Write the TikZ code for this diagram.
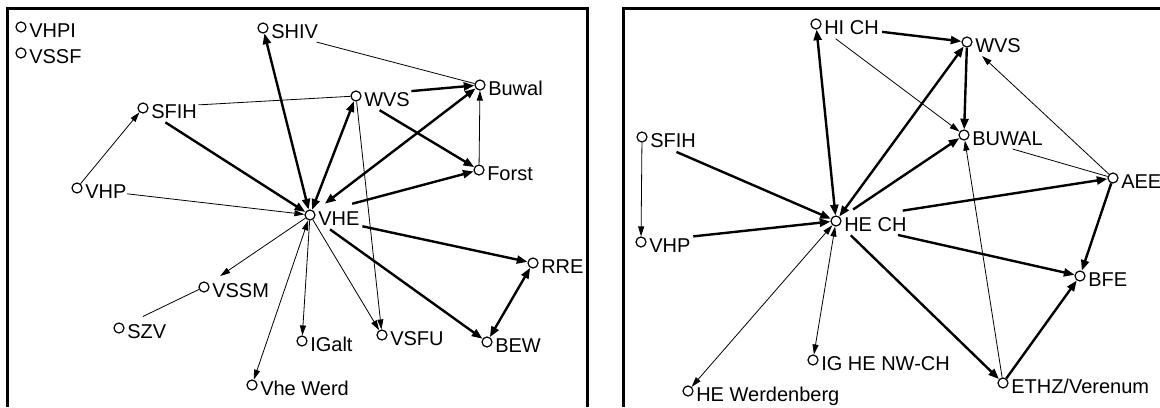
\documentclass[tikz,border=0pt]{standalone}
\usepackage{fontspec}
\setmainfont{Liberation Sans}
\usetikzlibrary{arrows.meta}

\newcommand{\stn}[3]{%
  \node[stop] (#1) at (#2) {};
  \node[stoplabel] (#1-l) at ([xshift=6pt, yshift=-7.9pt]#1.center) {#3};
}

\begin{document}
\begin{tikzpicture}[
    x=0.75pt, y=-0.75pt,
    stop/.style={circle, draw, fill=white, line width=0.9pt, inner sep=0, minimum size=7.5pt},
    stoplabel/.style={anchor=base west, inner sep=0, font=\fontsize{15}{18}\selectfont},
    frame/.style={line width=2.25pt},
    weak/.style={line width=0.6pt, >={Triangle[length=7.5pt, width=4.5pt]}},
    strong/.style={line width=1.8pt, >={Triangle[length=8pt, width=6pt]}},
    cutA/.style={shorten <=#1*0.75pt},
    cutB/.style={shorten >=#1*0.75pt}]
\useasboundingbox (0,0) rectangle (1160,407);

% frames, open at the bottom
\draw[frame] (7,407) -- (7,8) -- (587,8) -- (587,407);
\draw[frame] (623,407) -- (623,8) -- (1160,8);

% left network
\stn{VHPI}{21,27}{VHPI}
\stn{VSSF}{21,53}{VSSF}
\stn{SHIV}{263,28}{SHIV}
\stn{SFIH}{143,108}{SFIH}
\stn{VHP}{77,188}{VHP}
\stn{WVS}{356,96}{WVS}
\stn{Buwal}{480,85}{Buwal}
\stn{Forst}{479,170}{Forst}
\stn{VHE}{310,215}{VHE}
\stn{RRE}{533,263}{RRE}
\stn{BEW}{487,342}{BEW}
\stn{VSFU}{382,335}{VSFU}
\stn{IGalt}{302,341}{IGalt}
\stn{VheWerd}{252,385}{Vhe Werd}
\stn{VSSM}{204,287}{VSSM}
\stn{SZV}{119,328}{SZV}

\draw[weak, cutA=50] (SFIH) -- (WVS);
\draw[weak, ->] (VHP) -- (SFIH);
\draw[strong, ->, cutA=21] (SFIH) -- (VHE);
\draw[weak, ->, cutA=45] (VHP) -- (VHE);
\draw[strong, <->] (VHE) -- (SHIV);
\draw[strong, <->] (VHE) -- (WVS);
\draw[strong, <->, cutA=13] (VHE) -- (Buwal);
\draw[strong, ->, cutA=38] (VHE) -- (Forst);
\draw[strong, ->, cutA=50] (WVS) -- (Buwal);
\draw[strong, ->, cutA=22] (WVS) -- (Forst);
\draw[weak, ->] (Forst) -- (Buwal);
\draw[weak, cutA=50] (SHIV) -- (Buwal);
\draw[weak, ->] (WVS) -- (VSFU);
\draw[weak, ->] (VHE) -- (VSFU);
\draw[weak, ->] (VHE) -- (IGalt);
\draw[weak, <->] (VHE) -- (VheWerd);
\draw[weak, ->, cutB=14] (VHE) -- (VSSM);
\draw[weak, cutB=21] (VSSM) -- (SZV);
\draw[strong, ->, cutA=48] (VHE) -- (RRE);
\draw[strong, ->, cutA=19] (VHE) -- (BEW);
\draw[strong, <->] (RRE) -- (BEW);

% right network
\stn{HICH}{816,24}{HI CH}
\stn{WVSr}{967,42}{WVS}
\stn{BUWALr}{964,135}{BUWAL}
\stn{AEE}{1113,178}{AEE}
\stn{SFIHr}{642,137}{SFIH}
\stn{VHPr}{641,242}{VHP}
\stn{HECH}{836,221}{HE CH}
\stn{BFE}{1080,276}{BFE}
\stn{ETHZ}{1003,383}{ETHZ/Verenum}
\stn{IGHE}{813,360}{IG HE NW-CH}
\stn{HEWerd}{688,391}{HE Werdenberg}

\draw[strong, <->] (HECH) -- (HICH);
\draw[strong, ->, cutA=61] (HICH) -- (WVSr);
\draw[weak, ->, cutA=19] (HICH) -- (BUWALr);
\draw[strong, <->] (HECH) -- (WVSr);
\draw[strong, ->, cutA=15] (HECH) -- (BUWALr);
\draw[strong, ->] (WVSr) -- (BUWALr);
\draw[weak, ->, cutB=15] (AEE) -- (WVSr);
\draw[weak, cutA=45] (BUWALr) -- (AEE);
\draw[strong, ->, cutA=62] (HECH) -- (AEE);
\draw[strong, ->] (AEE) -- (BFE);
\draw[strong, ->, cutA=58] (HECH) -- (BFE);
\draw[strong, ->, cutA=15] (HECH) -- (ETHZ);
\draw[strong, ->] (ETHZ) -- (BFE);
\draw[weak, ->] (ETHZ) -- (BUWALr);
\draw[strong, ->, cutA=32] (SFIHr) -- (HECH);
\draw[weak, ->] (SFIHr) -- (VHPr);
\draw[strong, ->, cutA=47] (VHPr) -- (HECH);
\draw[weak, <->] (HECH) -- (HEWerd);
\draw[weak, <->] (HECH) -- (IGHE);

\end{tikzpicture}
\end{document}
